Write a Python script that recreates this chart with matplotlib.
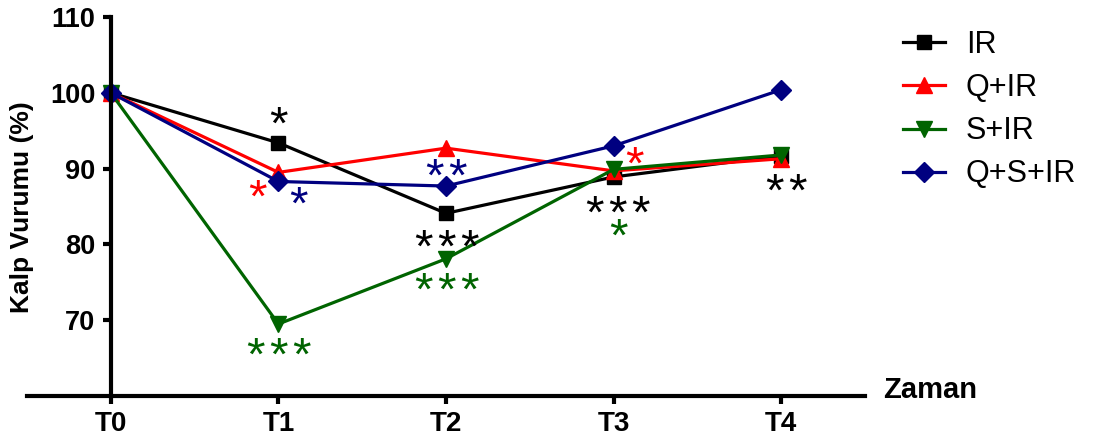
import matplotlib
matplotlib.use("Agg")
import matplotlib.pyplot as plt

plt.rcParams['font.family'] = ['Liberation Sans', 'DejaVu Sans']

times = ['T0', 'T1', 'T2', 'T3', 'T4']
groups = ['IR', 'Q+IR', 'S+IR', 'Q+S+IR']
ir = [100.0, 93.4, 84.1, 88.9, 91.7]
q_ir = [100.0, 89.5, 92.7, 89.7, 91.3]
s_ir = [100.0, 69.5, 78.1, 89.9, 91.8]
q_s_ir = [100.0, 88.3, 87.7, 93.0, 100.4]
y_ticks = [70, 80, 90, 100, 110]

# significance marks: (group, time index, label)
marks = [
    ('IR', 1, '*'), ('Q+IR', 1, '*'), ('Q+S+IR', 1, '*'), ('S+IR', 1, '***'),
    ('Q+S+IR', 2, '**'), ('IR', 2, '***'), ('S+IR', 2, '***'),
    ('Q+IR', 3, '*'), ('IR', 3, '***'), ('S+IR', 3, '*'),
    ('IR', 4, '**'),
]

series = {'IR': ir, 'Q+IR': q_ir, 'S+IR': s_ir, 'Q+S+IR': q_s_ir}
colors = {'IR': '#000000', 'Q+IR': '#ff0000', 'S+IR': '#006400', 'Q+S+IR': '#000080'}
markers = {'IR': 's', 'Q+IR': '^', 'S+IR': 'v', 'Q+S+IR': 'D'}
msizes = {'IR': 10, 'Q+IR': 11, 'S+IR': 11, 'Q+S+IR': 10}
# pixel offsets of each mark from its point
offsets = {
    ('IR', 1): (0, 21), ('Q+IR', 1): (-21, -22), ('Q+S+IR', 1): (20, -20),
    ('S+IR', 1): (0, -29), ('Q+S+IR', 2): (0, 12), ('IR', 2): (0, -31),
    ('S+IR', 2): (0, -29), ('Q+IR', 3): (21, 9), ('IR', 3): (4, -34),
    ('S+IR', 3): (5, -64), ('IR', 4): (5, -33),
}
star_gap = 23  # px between neighbouring stars

fig = plt.figure(figsize=(10.96, 4.43), dpi=100)
ax = fig.add_axes([27 / 1096, 1 - 396 / 443, (865 - 27) / 1096, (396 - 17) / 443])

x = list(range(len(times)))
for g in groups:
    ax.plot(x, series[g], color=colors[g], marker=markers[g], markersize=msizes[g],
            linewidth=2.3, label=g, clip_on=False)

for g, i, txt in marks:
    dx, dy = offsets[(g, i)]
    n = len(txt)
    for k in range(n):
        ax.annotate('*', (x[i], series[g][i]),
                    xytext=(dx + (k - (n - 1) / 2) * star_gap, dy),
                    textcoords='offset pixels', ha='center', va='center_baseline',
                    fontsize=34, color=colors[g])

for s in ['top', 'right']:
    ax.spines[s].set_visible(False)
ax.spines['left'].set_position(('data', 0))
ax.spines['left'].set_bounds(60, 110)
for s in ['left', 'bottom']:
    ax.spines[s].set_linewidth(3)

ax.set_xlim(-0.5, 4.5)
ax.set_ylim(60, 110)
ax.set_xticks(x)
ax.set_xticklabels(times, fontsize=20, fontweight='bold')
ax.set_yticks(y_ticks)
ax.set_yticklabels([str(v) for v in y_ticks], fontsize=19.5, fontweight='bold')
ax.tick_params(axis='both', direction='out', length=6, width=3, pad=5)

fig.text(22 / 1096, 1 - 207 / 443, 'Kalp Vurumu (%)', rotation=90, ha='center',
         va='center', fontsize=19, fontweight='bold')
fig.text(883 / 1096, 1 - 390 / 443, 'Zaman', ha='left', va='center',
         fontsize=21, fontweight='bold')

fig.legend(loc='upper left', bbox_to_anchor=(903 / 1096, 1 - 30 / 443), frameon=False,
           fontsize=22, handlelength=1.37, handletextpad=0.69, labelspacing=0.43,
           borderaxespad=0, borderpad=0)

fig.savefig('out.png', dpi=100)
